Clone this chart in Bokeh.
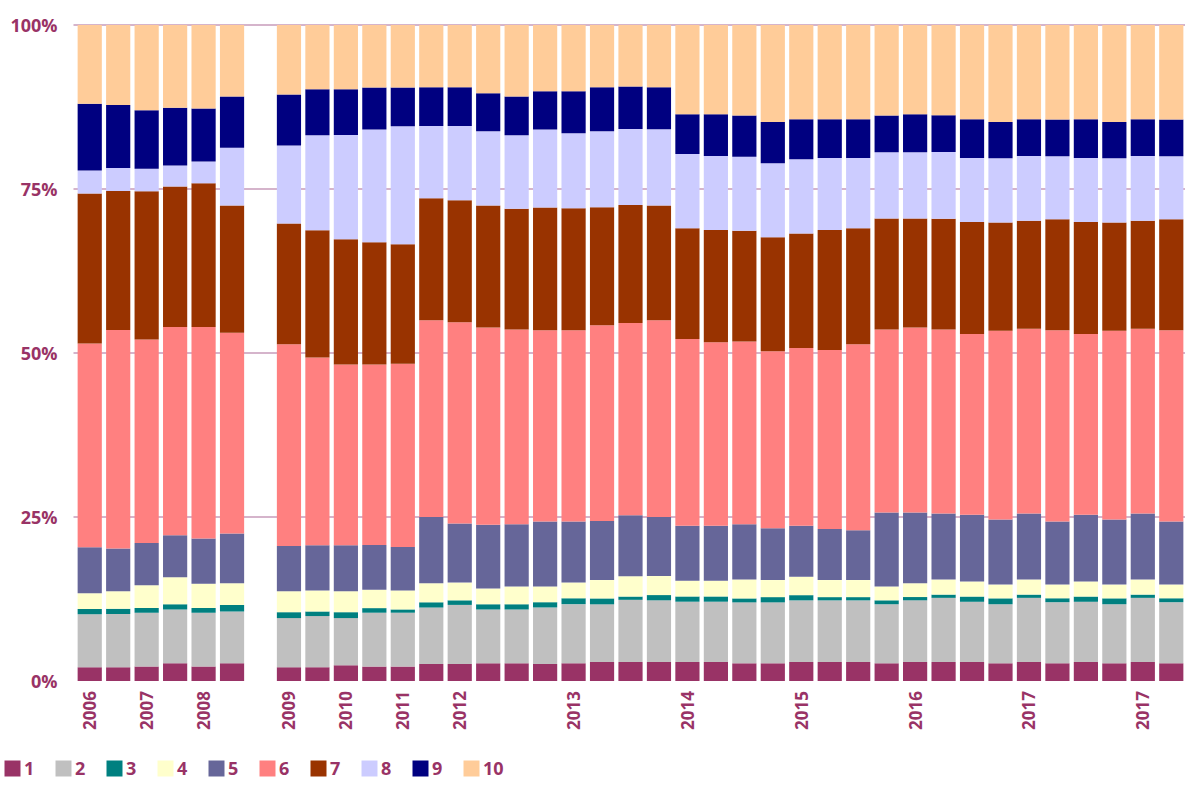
import numpy as np
from bokeh.plotting import figure
from bokeh.models import ColumnDataSource, Range1d, Legend, LegendItem
from bokeh.core.properties import value
from bokeh.embed import file_html
from bokeh.resources import INLINE

# ---- data (share of each series per period, %; None = empty slot) ----
x_labels = ["2006", "", "2007", "", "2008", "", "",
            "2009", "", "2010", "", "2011", "", "2012", "", "", "",
            "2013", "", "", "", "2014", "", "", "", "2015", "", "", "",
            "2016", "", "", "", "2017", "", "", "", "2017", ""]

series_names = ["1", "2", "3", "4", "5", "6", "7", "8", "9", "10"]
series_colors = ["#993366", "#C0C0C0", "#008080", "#FFFFCC", "#666699",
                 "#FF8080", "#993300", "#CCCCFF", "#000080", "#FFCC99"]

s1 = [2.1, 2.1, 2.2, 2.7, 2.2, 2.7, None,
      2.1, 2.1, 2.4, 2.2, 2.2, 2.6, 2.6, 2.7, 2.7, 2.6, 2.7, 2.9, 2.9, 2.9,
      2.9, 2.9, 2.7, 2.7, 2.9, 2.9, 2.9, 2.7, 2.9, 2.9, 2.9, 2.7, 2.9, 2.7,
      2.9, 2.7, 2.9, 2.7]
s2 = [8.1, 8.1, 8.2, 8.2, 8.2, 7.9, None,
      7.5, 7.8, 7.2, 8.2, 8.2, 8.6, 9.0, 8.2, 8.2, 8.6, 9.0, 8.8, 9.5, 9.4,
      9.2, 9.2, 9.3, 9.3, 9.4, 9.4, 9.4, 9.0, 9.4, 9.8, 9.2, 9.0, 9.8, 9.3,
      9.2, 9.0, 9.8, 9.3]
s3 = [0.8, 0.8, 0.7, 0.8, 0.7, 1.0, None,
      0.9, 0.7, 0.9, 0.7, 0.5, 0.8, 0.7, 0.8, 0.8, 0.8, 0.9, 0.9, 0.5, 0.8,
      0.8, 0.8, 0.6, 0.8, 0.8, 0.5, 0.5, 0.6, 0.5, 0.5, 0.8, 0.9, 0.5, 0.6,
      0.8, 0.9, 0.5, 0.6]
s4 = [2.4, 2.7, 3.5, 4.1, 3.7, 3.3, None,
      3.2, 3.2, 3.2, 2.8, 2.9, 2.9, 2.7, 2.4, 2.7, 2.4, 2.4, 2.8, 3.1, 2.9,
      2.4, 2.4, 2.9, 2.6, 2.8, 2.6, 2.6, 2.1, 2.1, 2.3, 2.3, 2.1, 2.3, 2.1,
      2.3, 2.1, 2.3, 2.1]
s5 = [7.0, 6.5, 6.4, 6.4, 6.9, 7.6, None,
      6.9, 6.9, 7.0, 6.8, 6.6, 10.1, 9.0, 9.7, 9.5, 9.9, 9.3, 9.0, 9.3, 9.0,
      8.4, 8.4, 8.4, 7.9, 7.8, 7.8, 7.6, 11.3, 10.8, 10.1, 10.2, 9.9, 10.1, 9.6,
      10.2, 9.9, 10.1, 9.6]
s6 = [31.1, 33.3, 31.0, 31.7, 32.2, 30.6, None,
      30.8, 28.6, 27.6, 27.5, 27.9, 30.0, 30.7, 30.1, 29.7, 29.1, 29.1, 29.9, 29.4, 30.0,
      28.5, 28.0, 27.9, 27.0, 27.1, 27.3, 28.4, 27.9, 28.2, 28.1, 27.6, 28.8, 28.2, 29.1,
      27.6, 28.8, 28.2, 29.1]
s7 = [22.9, 21.2, 22.6, 21.4, 21.9, 19.4, None,
      18.4, 19.4, 19.1, 18.6, 18.2, 18.6, 18.6, 18.6, 18.4, 18.7, 18.6, 18.0, 18.0, 17.5,
      16.9, 17.1, 16.9, 17.4, 17.5, 18.3, 17.7, 16.9, 16.6, 16.9, 17.1, 16.5, 16.5, 16.9,
      17.1, 16.5, 16.5, 16.9]
s8 = [3.5, 3.5, 3.4, 3.2, 3.3, 8.8, None,
      11.9, 14.5, 15.9, 17.2, 18.0, 11.0, 11.3, 11.3, 11.2, 11.9, 11.4, 11.6, 11.6, 11.6,
      11.3, 11.3, 11.3, 11.3, 11.3, 11.0, 10.7, 10.1, 10.1, 10.2, 9.8, 9.8, 9.9, 9.6,
      9.8, 9.8, 9.9, 9.6]
s9 = [10.2, 9.6, 8.9, 8.8, 8.1, 7.8, None,
      7.8, 7.0, 7.0, 6.4, 5.9, 5.9, 5.9, 5.8, 5.9, 5.8, 6.4, 6.7, 6.5, 6.4,
      6.1, 6.4, 6.3, 6.3, 6.1, 5.9, 5.9, 5.6, 5.8, 5.6, 5.9, 5.5, 5.6, 5.6,
      5.9, 5.5, 5.6, 5.6]
s10 = [12.0, 12.2, 13.0, 12.6, 12.7, 10.9, None,
       10.6, 9.8, 9.8, 9.5, 9.5, 9.5, 9.5, 10.4, 10.9, 10.1, 10.1, 9.5, 9.4, 9.5,
       13.6, 13.6, 13.8, 14.8, 14.4, 14.4, 14.4, 13.8, 13.6, 13.8, 14.4, 14.8, 14.4, 14.4,
       14.4, 14.8, 14.4, 14.4]

y_ticks = [0, 25, 50, 75, 100]
y_tick_labels = ["0%", "25%", "50%", "75%", "100%"]

# ---- build 100% stacks ----
series = [s1, s2, s3, s4, s5, s6, s7, s8, s9, s10]
vals = np.array([[np.nan if v is None else v for v in s] for s in series], dtype=float)
total = vals.sum(axis=0)
shares = vals / total * 100.0
tops = np.cumsum(shares, axis=0)
bottoms = tops - shares
n = len(x_labels)
xs = np.arange(n)
mask = ~np.isnan(total)

# ---- layout constants (pixels) ----
W, H = 1185, 780
PLOT_LEFT = 75          # left edge of the bar area
PLOT_TOP = 24.5         # 100 % line
PLOT_BOTTOM = 680.5     # 0 % line
slot_px = (W - PLOT_LEFT) / n
y_per_px = 100.0 / (PLOT_BOTTOM - PLOT_TOP)

LABEL_COLOR = "#993366"
FONT = "Open Sans"

p = figure(width=W, height=H, output_backend="svg", toolbar_location=None,
           x_range=Range1d(-0.5 - PLOT_LEFT / slot_px, n - 0.5),
           y_range=Range1d(-(H - PLOT_BOTTOM) * y_per_px, 100 + PLOT_TOP * y_per_px),
           x_axis_type=None, y_axis_type=None,
           min_border_left=0, min_border_right=0, min_border_top=0, min_border_bottom=0)
p.outline_line_color = None
p.background_fill_color = "white"
p.border_fill_color = "white"

# horizontal gridlines (not at 0)
grid_y = [t for t in y_ticks if t > 0]
p.segment(x0=[-0.5 - 2 / slot_px] * len(grid_y), x1=[n - 0.5] * len(grid_y),
          y0=grid_y, y1=grid_y, line_color="#C79BBA", line_width=1.5)

# stacked bars
renderers = []
for i, color in enumerate(series_colors):
    src = ColumnDataSource(dict(x=xs[mask], bottom=bottoms[i][mask], top=tops[i][mask]))
    r = p.vbar(x="x", bottom="bottom", top="top", width=0.85, source=src,
               fill_color=color, line_color=None)
    renderers.append(r)

# y tick labels
ysrc = ColumnDataSource(dict(x=[-0.5] * len(y_ticks), y=y_ticks, text=y_tick_labels))
p.text(x="x", y="y", text="text", source=ysrc, x_offset=-18,
       text_font=value(FONT), text_font_size=value("18px"), text_font_style="bold",
       text_color=LABEL_COLOR, text_align="right", text_baseline="middle")

# x tick labels (vertical)
label_idx = [i for i, l in enumerate(x_labels) if l]
xsrc = ColumnDataSource(dict(x=label_idx, y=[0] * len(label_idx),
                             text=[x_labels[i] for i in label_idx]))
p.text(x="x", y="y", text="text", source=xsrc, y_offset=10, angle=np.pi / 2,
       text_font=value(FONT), text_font_size=value("17px"), text_font_style="bold",
       text_color=LABEL_COLOR, text_align="right", text_baseline="middle")

# legend
legend = Legend(items=[LegendItem(label=nm, renderers=[r]) for nm, r in zip(series_names, renderers)],
                orientation="horizontal", location=(2, 0),
                glyph_width=20, glyph_height=20, label_height=20,
                label_standoff=2, label_width=29,
                spacing=0, padding=0, margin=0,
                label_text_font=FONT, label_text_font_size="18px",
                label_text_font_style="bold", label_text_color=LABEL_COLOR,
                background_fill_alpha=0, border_line_color=None)
p.add_layout(legend)

open("out.html", "w").write(file_html(p, INLINE))
